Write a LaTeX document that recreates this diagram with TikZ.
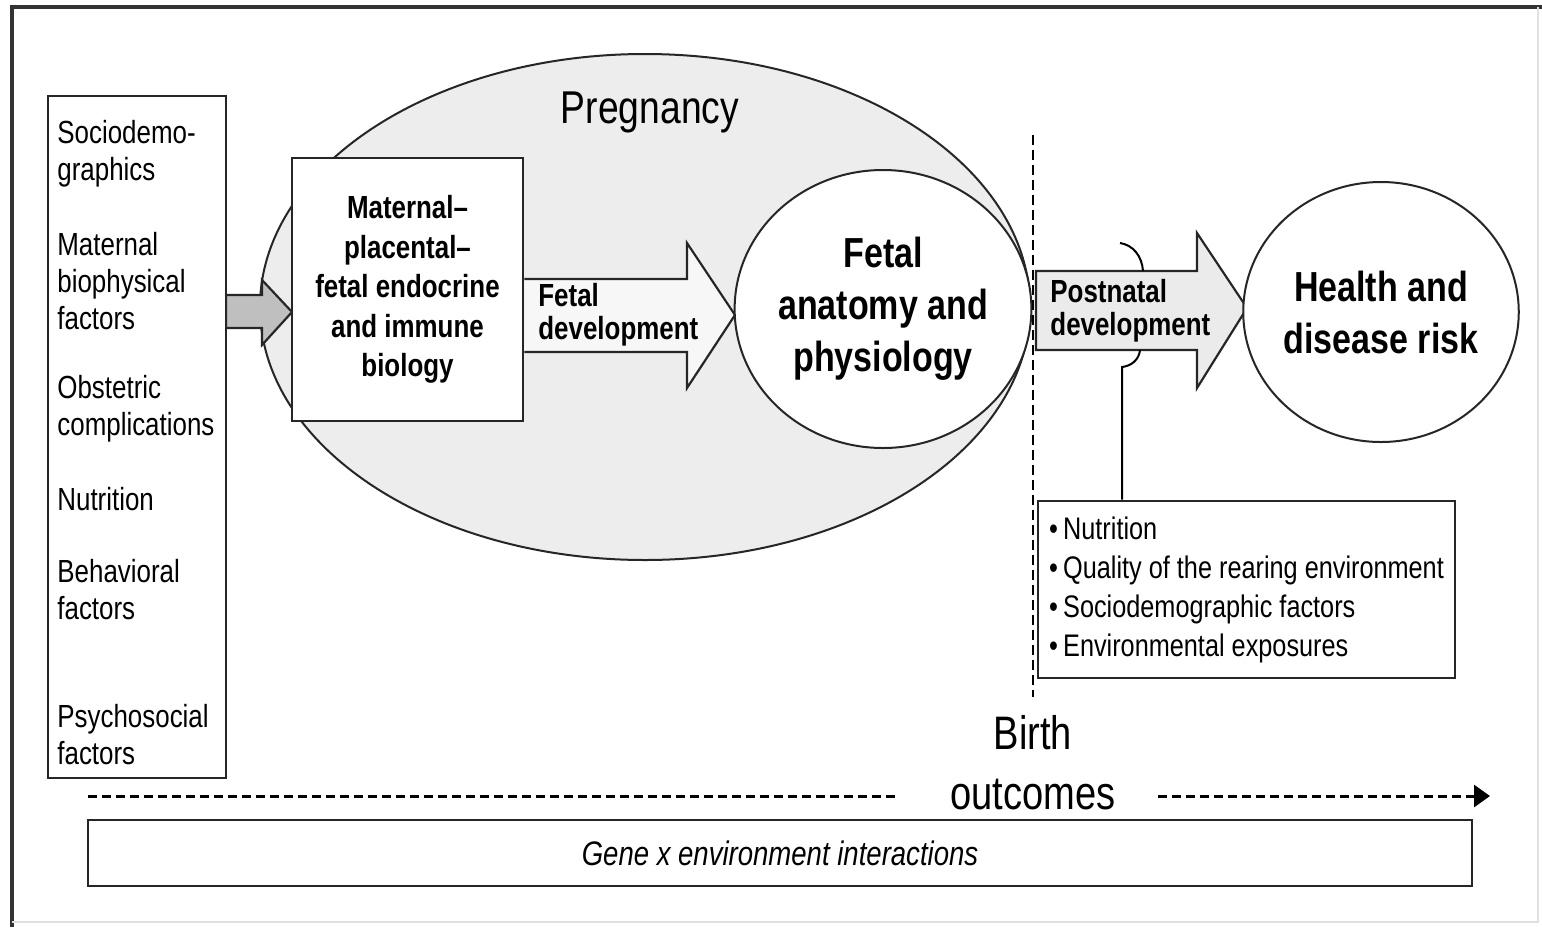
\documentclass[tikz,border=0pt]{standalone}
\usepackage{fontspec}
\setmainfont{Liberation Sans}[FakeStretch=0.81]
\usepackage{tikz}
\usetikzlibrary{arrows.meta, positioning, shapes.geometric}

\begin{document}
\begin{tikzpicture}[x=0.5pt, y=-0.5pt,
  factorbox/.style={rectangle, draw=black!85, line width=1.3pt, fill=white, inner sep=0pt},
  factortext/.style={anchor=west, align=left, inner sep=0pt, font=\fontsize{16}{18.5}\selectfont},
  biobox/.style={rectangle, draw=black!85, line width=1.3pt, fill=white, align=center,
    font=\bfseries\fontsize{16}{19.75}\selectfont},
  bigcirc/.style={ellipse, draw=black!85, line width=1pt, fill=white, inner sep=0pt, align=center,
    font=\bfseries\fontsize{21}{26}\selectfont},
  blockarr/.style={draw=black!85, line width=1.1pt, line join=miter},
  arrtext/.style={anchor=west, align=left, inner sep=0pt, font=\bfseries\fontsize{16}{16.5}\selectfont},
  timeline/.style={line width=1.5pt, dash pattern=on 4.5pt off 2.5pt},
  bul/.style={font=\fontsize{15.6}{19.5}\selectfont}
]
  \useasboundingbox (0,0) rectangle (1542,927);
  \fill[white] (0,0) rectangle (1542,927);
  % outer frame
  \draw[line width=2pt, black!80] (12,927) -- (12,7) -- (1542,7);
  \draw[line width=1pt, black!12] (1538,7) -- (1538,922) -- (12,922);

  % pregnancy
  \node[ellipse, draw=black!85, line width=1pt, fill=black!7, minimum width=385pt,
    minimum height=253pt, inner sep=0pt] (preg) at (645,307) {};
  \node[font=\fontsize{23}{28}\selectfont] (pregl) at (650,112) {Pregnancy};

  % input arrow
  \draw[blockarr, fill=black!25] (226,295) -- (262,295) -- (262,280) -- (292,312)
    -- (262,345) -- (262,328) -- (226,328) -- cycle;

  \node[biobox, minimum width=115.5pt, minimum height=131.5pt] (mpf) at (407.5,289.5)
    {Maternal–\\placental–\\fetal endocrine\\and immune\\biology};

  % fetal development arrow
  \draw[blockarr, fill=black!3] (mpf.east |- 0,279) -- (687,279) -- (687,243) -- (735,315)
    -- (687,388) -- (687,352) -- (mpf.east |- 0,352);
  \node[arrtext] (fdev) at (538,315) {Fetal\\development};

  \node[bigcirc, minimum width=148pt, minimum height=139pt] (fetal) at (883,309)
    {Fetal\\anatomy and\\physiology};

  % birth line
  \coordinate (btop) at (1033,135);
  \coordinate (bbot) at (1033,697);
  \draw[line width=1.3pt, dash pattern=on 5pt off 2.5pt] (btop) -- (bbot);

  % postnatal arrow
  \draw[blockarr, fill=black!8] (1036,271) -- (1197,271) -- (1197,233) -- (1247,308)
    -- (1197,388) -- (1197,350) -- (1036,350) -- cycle;
  \node[arrtext] (pdev) at (1050,311) {Postnatal\\development};

  \node[bigcirc, minimum width=134pt, minimum height=130pt] (health) at (1381,312)
    {Health and\\disease risk};

  % postnatal factors
  \node[rectangle, draw=black!85, line width=1.3pt, fill=white, minimum width=208.5pt,
    minimum height=88.5pt, align=left, bul] (envbox) at (1246.5,589.5)
    {\textbullet\,Nutrition\\\textbullet\,Quality of the rearing environment\\
     \textbullet\,Sociodemographic factors\\\textbullet\,Environmental exposures};
  \coordinate (hop) at (1122,367);
  \draw[line width=1pt] (1120,243) .. controls (1133,245) and (1142,256) .. (1143,271);
  \draw[line width=1pt] (envbox.north -| hop) -- (hop)
    .. controls (1131,366) and (1139,360) .. (1140,350);

  % prenatal factors
  \node[factorbox, minimum width=89pt, minimum height=341pt] (factors) at (137,437) {};
  \node[factortext] (socio)   at (57,153.5) {Sociodemo-\\graphics};
  \node[factortext] (biophys) at (57,281.5) {Maternal\\biophysical\\factors};
  \node[factortext] (obstet)  at (57,408.5) {Obstetric\\complications};
  \node[factortext] (nutr)    at (57,499)   {Nutrition};
  \node[factortext] (behav)   at (57,590)   {Behavioral\\factors};
  \node[factortext] (psych)   at (57,735)   {Psychosocial\\factors};

  % timeline
  \node[align=center, font=\fontsize{23.5}{30}\selectfont] (birth) at (1033,763)
    {Birth\\outcomes};
  \coordinate (tstart) at (88,796);
  \coordinate (tend) at (1490,796);
  \draw[timeline] (tstart) -- (897,796);
  \draw[timeline, -{Triangle[length=8pt, width=11pt]}] (1158,796) -- (tend);

  \node[rectangle, draw=black!85, line width=1.3pt, fill=white, minimum width=692pt,
    minimum height=33pt, font=\itshape\fontsize{17}{20}\selectfont] (gene) at (780,853)
    {Gene x environment interactions};
\end{tikzpicture}
\end{document}
